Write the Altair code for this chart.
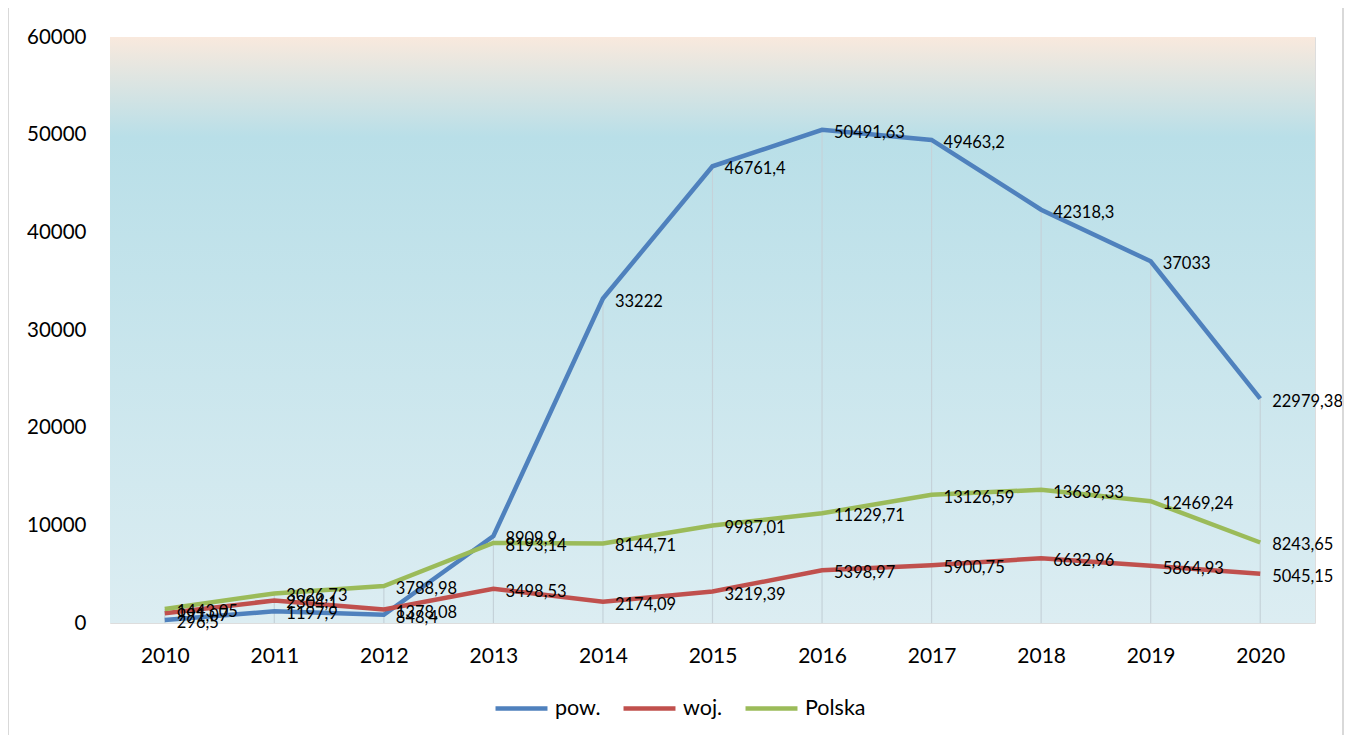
import altair as alt
import pandas as pd

years = ["2010", "2011", "2012", "2013", "2014", "2015", "2016", "2017", "2018", "2019", "2020"]
series_names = ["pow.", "woj.", "Polska"]
pow_vals = [296.5, 1197.9, 848.4, 8909.9, 33222, 46761.4, 50491.63, 49463.2, 42318.3, 37033, 22979.38]
woj_vals = [991.07, 2304.1, 1378.08, 3498.53, 2174.09, 3219.39, 5398.97, 5900.75, 6632.96, 5864.93, 5045.15]
pol_vals = [1443.05, 3026.73, 3788.98, 8193.14, 8144.71, 9987.01, 11229.71, 13126.59, 13639.33, 12469.24, 8243.65]
colors = ["#4f81bd", "#c0504d", "#9bbb59"]


def fmt(v):
    if float(v) == int(v):
        return str(int(v))
    return repr(float(v)).replace(".", ",")


rows = []
for name, vals in zip(series_names, [pow_vals, woj_vals, pol_vals]):
    for y, v in zip(years, vals):
        rows.append({"year": y, "series": name, "value": v, "label": fmt(v)})
df = pd.DataFrame(rows)
drop = pd.DataFrame({"year": years,
                     "top": [max(a, b, c) for a, b, c in zip(pow_vals, woj_vals, pol_vals)]})

W, H = 1205, 586

x_enc = alt.X("year:N", sort=years,
              scale=alt.Scale(type="point", padding=0.5),
              axis=alt.Axis(title=None, labelAngle=0, labelFontSize=21, labelColor="#000000",
                            labelFont="Lato", ticks=False, domain=False, labelPadding=22, grid=False))
y_scale = alt.Scale(domain=[0, 60000], nice=False)

bg = alt.Chart(pd.DataFrame({"a": [0]})).mark_rect(
    fill=alt.Gradient(gradient="linear", x1=0, x2=0, y1=0, y2=1,
                      stops=[alt.GradientStop(offset=0, color="#f9e9dd"),
                             alt.GradientStop(offset=0.17, color="#b9dfe8"),
                             alt.GradientStop(offset=1, color="#dcedf2")])
).encode(x=alt.value(0), x2=alt.value(W), y=alt.value(0), y2=alt.value(H))

frame = alt.Chart(pd.DataFrame({"a": [0]})).mark_rect(
    fill=None, stroke="#d9d9d9", strokeWidth=2, clip=False
).encode(x=alt.value(-102), x2=alt.value(W + 28), y=alt.value(-30), y2=alt.value(H + 140))

drops = alt.Chart(drop).mark_rule(color="#c5d2d9", strokeWidth=1.2).encode(
    x=x_enc,
    y=alt.Y("top:Q", scale=y_scale,
            axis=alt.Axis(title=None, values=[0, 10000, 20000, 30000, 40000, 50000, 60000],
                          format="d", labelFontSize=20.5, labelFont="Lato", labelColor="#000000",
                          ticks=False, domain=False, grid=False, labelPadding=24)),
    y2=alt.datum(0),
)

lines = alt.Chart(df).mark_line(strokeWidth=4.5).encode(
    x=x_enc,
    y=alt.Y("value:Q", scale=y_scale),
    color=alt.Color("series:N", sort=series_names,
                    scale=alt.Scale(domain=series_names, range=colors),
                    legend=alt.Legend(title=None, orient="none", direction="horizontal",
                                      legendX=383, legendY=643, symbolType="stroke",
                                      symbolSize=2700, symbolStrokeWidth=4.5, labelFontSize=21.5,
                                      labelFont="Lato", labelColor="#000000", labelOffset=5,
                                      columnPadding=13)),
)

labels = alt.Chart(df).mark_text(align="left", baseline="middle", dx=12, dy=3, fontSize=16.5,
                                 font="Lato", color="#000000").encode(
    x=x_enc,
    y=alt.Y("value:Q", scale=y_scale),
    text="label:N",
)

chart = alt.layer(bg, drops, lines, labels, frame).properties(
    width=W, height=H,
    autosize=alt.AutoSizeParams(type="none"),
    padding={"left": 102, "top": 29, "right": 29, "bottom": 112},
).configure_view(stroke="#bfbfbf", strokeWidth=1.5).configure(background="#ffffff")

chart.save("out.html", embed_options={"renderer": "svg", "actions": False})
